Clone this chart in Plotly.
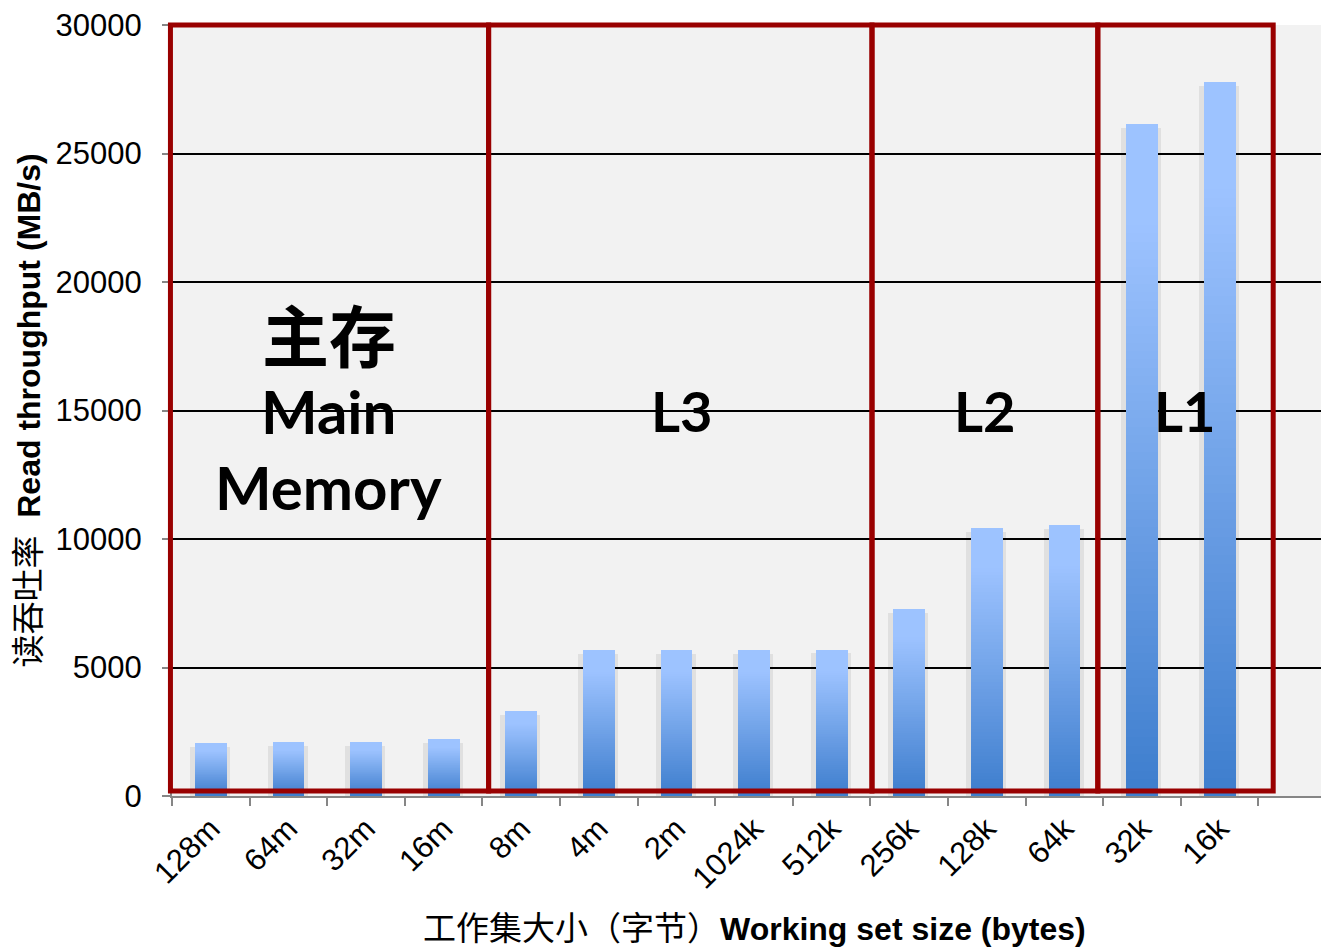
import plotly.graph_objects as go

# Working-set sizes (largest to smallest) and measured read throughput in MB/s
sizes = ["128m", "64m", "32m", "16m", "8m", "4m", "2m", "1024k",
         "512k", "256k", "128k", "64k", "32k", "16k"]
throughput = [2060, 2100, 2100, 2210, 3300, 5680, 5670, 5670,
              5700, 7270, 10420, 10530, 26140, 27780]

y_ticks = [0, 5000, 10000, 15000, 20000, 25000, 30000]
y_tick_text = ["0", "5000", "10000", "15000", "20000", "25000", "30000"]

# Memory-hierarchy regions: box edges along the category axis (category index units)
region_edges = [-0.52, 3.58, 8.52, 11.43, 13.69]

X_RANGE = [-0.5, 14.306]
Y_MAX = 30000
BAR_W = 0.41
TOP_RGB = (157, 195, 255)
BOT_RGB = (61, 125, 205)


def shade(f):
    # f = 0 at the bar foot, 1 at the bar top
    t = min(1.0, f / 0.85)
    r, g, b = (round(BOT_RGB[i] + (TOP_RGB[i] - BOT_RGB[i]) * t) for i in range(3))
    return f"rgb({r},{g},{b})"


def to_paper_x(idx):
    return (idx - X_RANGE[0]) / (X_RANGE[1] - X_RANGE[0])


fig = go.Figure()

# soft drop shadow behind each bar
fig.add_trace(go.Bar(
    x=sizes, y=[v - 150 for v in throughput], width=0.515, offset=-0.2575 - 0.01,
    marker=dict(color="rgba(0,0,0,0.075)", line=dict(width=0)),
    hoverinfo="skip", showlegend=False,
))

# vertical gradient: nested bars from full height (light) down to short (dark)
N = 80
for k in range(N):
    frac = (N - k) / N
    fig.add_trace(go.Bar(
        x=sizes, y=[v * frac for v in throughput], width=BAR_W,
        marker=dict(color=shade(frac - 0.5 / N), line=dict(width=0)),
        hoverinfo="skip", showlegend=False,
    ))

# region boxes in paper units so their thick outlines are not clipped at the plot edge
RED = "#990000"
for x0, x1 in zip(region_edges[:-1], region_edges[1:]):
    fig.add_shape(type="rect", xref="paper", yref="paper",
                  x0=to_paper_x(x0), x1=to_paper_x(x1), y0=195 / Y_MAX, y1=1.0,
                  line=dict(color=RED, width=5), fillcolor="rgba(0,0,0,0)", layer="above")

LABEL_FONT = "Lato, Open Sans, sans-serif"
fig.add_annotation(x=1.52, y=18050, text="<b>主存</b>", showarrow=False,
                   font=dict(family="Noto Sans CJK SC", size=67, color="black"))
fig.add_annotation(x=1.52, y=15000, text="<b>Main</b>", showarrow=False,
                   font=dict(family=LABEL_FONT, size=60, color="black"))
fig.add_annotation(x=1.52, y=12020, text="<b>Memory</b>", showarrow=False,
                   font=dict(family=LABEL_FONT, size=60, color="black"))
for xc, lab in [(6.07, "L3"), (9.98, "L2"), (12.55, "L1")]:
    fig.add_annotation(x=xc, y=15000, text=f"<b>{lab}</b>", showarrow=False,
                       font=dict(family=LABEL_FONT, size=56, color="black"))

AX_FONT = "Liberation Sans, Arial, Noto Sans CJK SC, sans-serif"
fig.add_annotation(xref="paper", yref="paper", x=0.507, y=-0.1715, yanchor="middle",
                   text='<span style="font-size:33px">工作集大小（字节）</span>'
                        '<b>Working set size (bytes)</b>',
                   showarrow=False, font=dict(family=AX_FONT, size=32, color="black"))
fig.add_annotation(xref="paper", yref="paper", x=-0.1253, y=0.5, xanchor="center",
                   textangle=-90,
                   text='<span style="font-size:33px">读吞吐率</span>  '
                        '<b>Read throughput (MB/s)</b>',
                   showarrow=False, font=dict(family=AX_FONT, size=32, color="black"))

fig.update_layout(
    width=1321, height=949,
    margin=dict(l=172, r=0, t=25, b=153),
    paper_bgcolor="white", plot_bgcolor="#f2f2f2",
    barmode="overlay", bargap=0, showlegend=False,
    font=dict(family=AX_FONT, size=30, color="black"),
    xaxis=dict(type="category", categoryorder="array", categoryarray=sizes,
               range=X_RANGE, tickson="boundaries", ticks="outside",
               ticklen=8, tickwidth=2, tickcolor="#868686", tickangle=-45,
               showline=True, linecolor="#868686", linewidth=2, showgrid=False,
               tickfont=dict(size=31), fixedrange=True),
    yaxis=dict(range=[0, Y_MAX], tickvals=y_ticks, ticktext=y_tick_text,
               ticks="outside", ticklen=8,
               tickwidth=2, tickcolor="#868686", showline=True, linecolor="#868686",
               linewidth=2, showgrid=True, gridcolor="black", gridwidth=1.5,
               zeroline=False, tickfont=dict(size=31), ticklabelstandoff=14,
               fixedrange=True),
)

fig.write_html("out.html")
